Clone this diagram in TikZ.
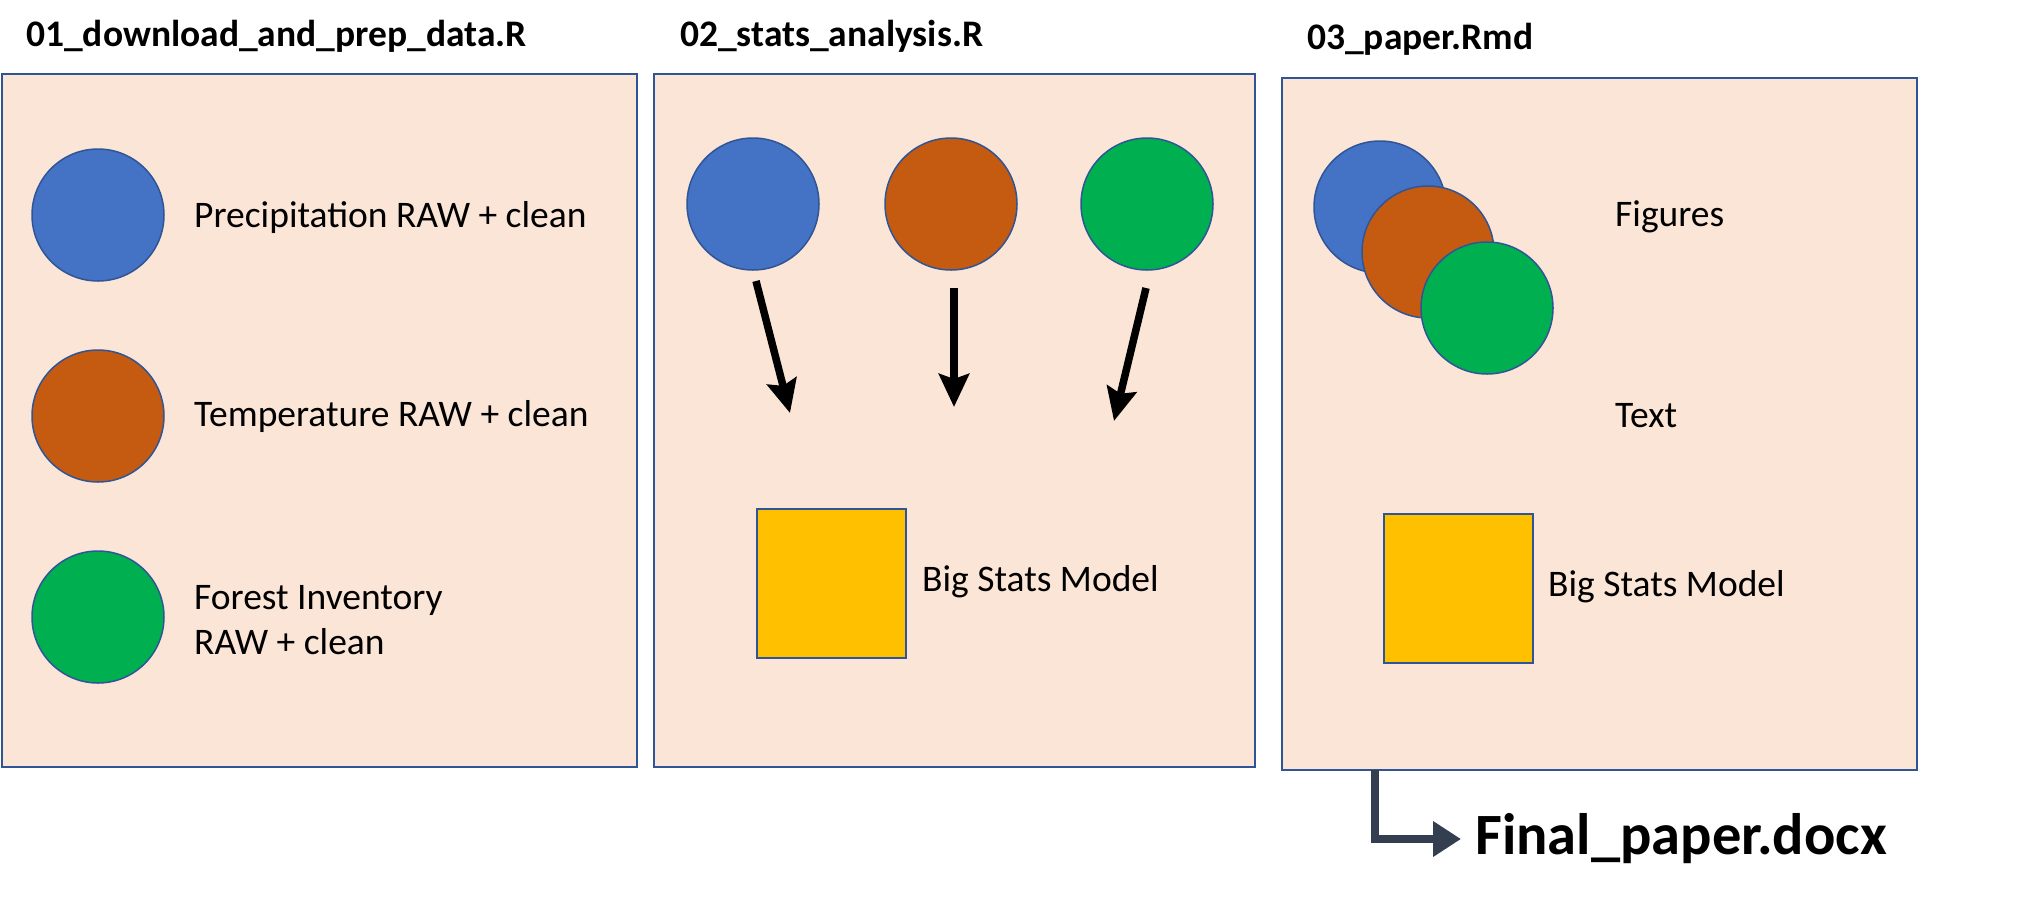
\documentclass[tikz,border=0pt]{standalone}
\usepackage{fontspec}
\setmainfont{Carlito}
\usetikzlibrary{arrows.meta}
\definecolor{panelfill}{HTML}{FBE5D6}
\definecolor{panelline}{HTML}{2F5597}
\definecolor{precip}{HTML}{4472C4}
\definecolor{temper}{HTML}{C55A11}
\definecolor{forest}{HTML}{00B050}
\definecolor{model}{HTML}{FFC000}
\definecolor{outarrow}{HTML}{333F50}
\begin{document}
\begin{tikzpicture}[x=1pt,y=-1pt,
    panel/.style={draw=panelline,fill=panelfill,line width=2pt,anchor=north west,inner sep=0pt},
    blob/.style={circle,draw=panelline,line width=1.5pt,minimum size=132pt,inner sep=0pt},
    box/.style={draw=panelline,fill=model,line width=2pt,minimum size=149pt,inner sep=0pt},
    lbl/.style={anchor=west,inner sep=0pt,font=\fontsize{37.5}{45}\selectfont},
    ttl/.style={anchor=west,inner sep=0pt,font=\fontsize{37.5}{45}\selectfont\bfseries},
    flow/.style={line width=7.5pt,-{Stealth[length=33pt,width=30pt,inset=5pt]}}]
      \useasboundingbox (0,0) rectangle (2040,906);
      % panels
      \node[panel,minimum width=635pt,minimum height=693pt] (p1) at (1,73) {};
      \node[panel,minimum width=601pt,minimum height=693pt] (p2) at (653,73) {};
      \node[panel,minimum width=635pt,minimum height=692pt] (p3) at (1281,77) {};
      \node[ttl] (t1) at (26,36) {01\_download\_and\_prep\_data.R};
      \node[ttl] (t2) at (680,36) {02\_stats\_analysis.R};
      \node[ttl] (t3) at (1307,39) {03\_paper.Rmd};
      % 01
      \node[blob,fill=precip] (c1) at (98,215) {};
      \node[blob,fill=temper] (c2) at (98,416) {};
      \node[blob,fill=forest] (c3) at (98,617) {};
      \node[lbl] (l1) at (194,217) {Precipitation RAW + clean};
      \node[lbl] (l2) at (194,416) {Temperature RAW + clean};
      \node[lbl,align=left] (l3) at (194,620) {Forest Inventory\\RAW + clean};
      % 02
      \node[blob,fill=precip] (d1) at (753,204) {};
      \node[blob,fill=temper] (d2) at (951,204) {};
      \node[blob,fill=forest] (d3) at (1147,204) {};
      \coordinate (a1) at (756,281);
      \coordinate (b1) at (790,413);
      \coordinate (a2) at (954,288);
      \coordinate (b2) at (954,407);
      \coordinate (a3) at (1146,288);
      \coordinate (b3) at (1114,421);
      \draw[flow] (a1) -- (b1);
      \draw[flow] (a2) -- (b2);
      \draw[flow] (a3) -- (b3);
      \node[box] (m1) at (831,583) {};
      \node[lbl] (ml1) at (922,582) {Big Stats Model};
      % 03
      \node[blob,fill=precip] (e1) at (1380,207) {};
      \node[blob,fill=temper] (e2) at (1428,252) {};
      \node[blob,fill=forest] (e3) at (1487,308) {};
      \node[lbl] (fig) at (1615,217) {Figures};
      \node[lbl] (txt) at (1615,416) {Text};
      \node[box] (m2) at (1458,588) {};
      \node[lbl] (ml2) at (1548,587) {Big Stats Model};
      % output
      \node[anchor=west,inner sep=0pt,font=\fontsize{58.5}{68}\selectfont\bfseries] (out) at (1475,839) {Final\_paper.docx};
      \coordinate (o1) at (1375,770);
      \draw[outarrow,line width=8pt,-{Triangle[length=28pt,width=34pt]}] (o1) |- ([xshift=-14pt]out.west);
    \end{tikzpicture}
\end{document}
